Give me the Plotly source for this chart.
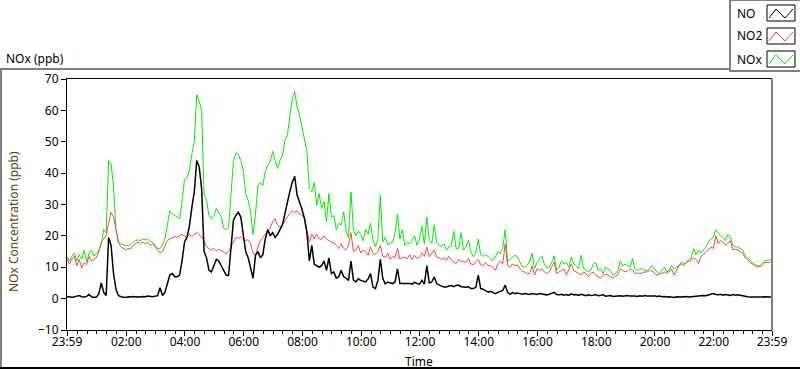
import plotly.graph_objects as go

# ---------------- data (5-minute samples from 23:59 to 23:59) ----------------
minutes_since_start = list(range(0, 1441, 5))

no_ppb = [
    0.5, 0.7, 0.4, 0.6, 0.8, 1.0, 0.6, 0.5, 0.7, 1.3, 0.6, 0.4,
    0.5, 1.5, 5.0, 2.0, 1.0, 19.5, 17.0, 8.0, 3.0, 1.0, 0.6, 0.5,
    0.4, 0.6, 0.5, 0.7, 0.5, 0.6, 0.5, 0.7, 0.6, 0.8, 0.7, 0.6,
    0.8, 0.9, 3.5, 1.0, 2.0, 5.0, 7.5, 8.0, 7.0, 7.0, 7.5, 12.0,
    18.0, 19.5, 23.0, 29.0, 34.0, 44.0, 42.0, 35.0, 15.0, 13.0, 9.0, 8.5,
    10.5, 12.5, 12.0, 10.5, 9.0, 7.5, 7.4, 16.0, 25.0, 26.5, 27.5, 26.0,
    21.0, 15.0, 13.0, 10.0, 6.5, 13.8, 15.0, 13.0, 14.0, 19.0, 22.0, 20.0,
    21.0, 19.5, 20.5, 22.0, 23.5, 27.0, 31.0, 34.0, 37.0, 39.0, 33.0, 31.0,
    28.5, 25.5, 21.0, 12.0, 17.0, 11.0, 10.5, 10.0, 10.5, 12.0, 9.0, 13.0,
    8.0, 8.5, 6.5, 7.0, 9.0, 7.0, 6.5, 5.8, 12.0, 6.0, 5.3, 6.3,
    5.8, 5.5, 5.3, 6.3, 8.0, 3.7, 3.2, 5.8, 12.5, 6.5, 4.7, 5.3,
    5.0, 4.8, 5.3, 9.5, 4.8, 4.8, 5.0, 4.8, 4.8, 4.6, 5.2, 4.8,
    4.6, 5.8, 4.6, 10.5, 5.0, 5.3, 6.9, 4.8, 4.3, 4.0, 3.7, 3.7,
    4.0, 4.2, 3.8, 4.2, 4.3, 3.8, 3.7, 3.6, 3.8, 3.2, 3.2, 3.6,
    7.5, 3.2, 3.0, 2.6, 2.1, 2.3, 2.0, 1.6, 2.0, 2.3, 2.6, 4.3,
    2.0, 1.4, 2.0, 1.6, 1.8, 1.6, 1.4, 1.6, 1.4, 1.3, 1.6, 1.4,
    1.3, 1.6, 1.4, 1.3, 1.2, 1.4, 1.6, 2.0, 1.3, 1.2, 1.4, 1.1,
    1.3, 1.0, 1.5, 1.2, 1.3, 1.0, 1.4, 1.1, 0.9, 1.2, 1.0, 1.1,
    1.3, 0.9, 1.0, 1.2, 0.8, 0.9, 1.0, 0.7, 0.8, 1.0, 0.9, 0.8,
    0.9, 1.0, 0.8, 0.9, 0.8, 0.7, 0.9, 0.8, 1.0, 0.8, 0.7, 0.8,
    0.9, 0.7, 0.8, 0.6, 0.7, 0.5, 0.6, 0.5, 0.4, 0.6, 0.5, 0.5,
    0.6, 0.7, 0.5, 0.6, 0.7, 0.8, 0.7, 0.9, 1.0, 0.9, 1.1, 1.2,
    1.6, 1.3, 1.2, 1.4, 1.1, 1.3, 1.2, 1.0, 1.3, 1.1, 1.2, 1.0,
    0.8, 0.7, 0.6, 0.5, 0.6, 0.5, 0.5, 0.4, 0.5, 0.6, 0.5, 0.5,
    0.6,
]

no2_ppb = [
    12.8, 11.0, 12.5, 13.5, 10.5, 12.5, 9.8, 11.5, 10.8, 13.5, 12.0, 12.5,
    13.0, 15.0, 18.0, 19.0, 20.0, 24.0, 27.5, 26.0, 22.0, 18.0, 16.5, 16.0,
    15.5, 16.0, 15.8, 17.0, 17.5, 18.0, 17.5, 18.0, 17.5, 18.0, 17.0, 17.5,
    16.5, 15.5, 14.5, 15.0, 17.0, 18.5, 19.0, 19.5, 19.8, 19.5, 20.0, 20.5,
    20.0, 19.5, 20.5, 19.8, 20.5, 21.0, 20.5, 19.5, 18.5, 16.5, 16.0, 15.5,
    16.0, 15.2, 15.8, 15.4, 14.8, 14.2, 15.0, 16.5, 18.0, 19.5, 19.2, 19.8,
    18.8, 18.5, 18.8, 17.5, 14.5, 13.8, 16.5, 18.5, 19.5, 20.5, 21.5, 22.5,
    24.5, 25.5, 23.5, 22.8, 23.5, 25.0, 26.0, 27.0, 28.0, 27.5, 28.0, 27.0,
    26.5, 26.0, 22.0, 18.0, 20.5, 19.0, 20.5, 19.2, 18.8, 20.0, 19.0, 18.5,
    18.0, 17.8, 16.8, 16.0, 17.5, 16.0, 15.5, 17.0, 21.0, 15.0, 15.5, 17.0,
    14.5, 15.5, 15.0, 13.8, 16.5, 14.5, 14.0, 15.0, 17.0, 13.5, 13.2, 14.5,
    12.5, 13.5, 13.0, 16.0, 12.5, 13.2, 13.0, 12.8, 14.0, 12.5, 13.8, 12.8,
    13.2, 14.5, 13.5, 16.5, 13.3, 14.5, 15.5, 13.2, 13.0, 12.5, 13.0, 12.2,
    13.5, 12.2, 11.8, 11.2, 12.5, 11.8, 12.0, 11.5, 12.8, 11.0, 10.8, 11.5,
    12.5, 10.8, 10.5, 11.5, 10.6, 10.5, 10.0, 9.0, 11.0, 12.0, 11.0, 17.5,
    10.5, 10.0, 11.0, 10.5, 10.8, 9.5, 8.8, 8.5, 8.0, 8.0, 10.5, 7.5,
    9.5, 9.0, 9.5, 8.5, 8.0, 8.5, 10.0, 11.7, 8.0, 8.5, 9.0, 9.5,
    7.5, 9.5, 11.0, 9.0, 8.5, 7.8, 7.5, 8.5, 8.0, 7.0, 8.0, 8.5,
    7.5, 7.0, 6.5, 7.5, 7.8, 7.5, 7.0, 6.5, 7.2, 7.5, 9.5, 9.0,
    8.5, 8.8, 9.5, 9.2, 8.0, 8.2, 8.0, 8.2, 8.5, 8.5, 9.0, 8.8,
    8.0, 7.5, 7.8, 8.0, 8.5, 8.0, 8.5, 9.5, 7.5, 9.0, 10.5, 11.0,
    10.5, 11.5, 11.8, 12.2, 13.0, 12.5, 11.2, 13.5, 14.0, 15.0, 15.5, 16.5,
    16.0, 20.0, 17.5, 18.5, 18.0, 17.0, 17.5, 18.5, 15.5, 15.8, 15.5, 15.0,
    14.5, 13.0, 12.5, 11.5, 11.0, 10.5, 10.0, 10.2, 10.5, 11.5, 11.5, 11.5,
    12.0,
]

nox_ppb = [
    13.3, 12.0, 13.5, 14.5, 12.0, 14.0, 12.5, 15.4, 11.7, 14.5, 15.5, 13.5,
    14.5, 15.5, 17.5, 22.0, 21.0, 44.0, 43.0, 36.0, 22.0, 18.0, 17.5, 17.2,
    16.8, 17.0, 17.2, 18.0, 18.5, 18.7, 18.5, 19.0, 18.7, 19.0, 18.2, 18.0,
    17.0, 16.0, 16.0, 17.0, 19.0, 23.0, 28.0, 27.0, 26.5, 26.0, 25.5, 31.0,
    38.0, 38.5, 41.0, 46.0, 50.0, 65.0, 63.0, 60.0, 33.0, 31.5, 26.5, 25.5,
    26.5, 28.7, 27.5, 26.0, 22.5, 22.0, 22.5, 33.0, 44.0, 46.5, 46.0, 44.0,
    41.0, 33.5, 31.4, 27.5, 20.5, 27.0, 36.0, 37.0, 36.0, 40.5, 42.5, 43.5,
    47.0, 44.0, 41.5, 44.0, 45.5, 50.5, 52.0, 58.0, 63.5, 66.0, 61.0, 58.5,
    55.0, 50.5, 47.0, 35.0, 34.0, 37.0, 29.8, 33.5, 28.7, 31.0, 24.5, 33.5,
    26.0, 26.5, 22.0, 24.0, 23.5, 27.7, 21.5, 19.5, 34.0, 22.0, 20.0, 21.5,
    20.5, 18.5, 22.0, 20.5, 24.0, 18.5, 16.5, 19.0, 33.0, 18.0, 19.5, 17.2,
    17.5, 18.0, 21.0, 27.0, 19.0, 22.0, 17.0, 18.0, 17.5, 18.5, 20.0, 17.0,
    19.0, 23.0, 17.5, 26.0, 18.5, 17.6, 23.5, 18.0, 17.0, 16.5, 17.5, 15.4,
    16.5, 16.8, 21.5, 15.8, 16.0, 21.0, 15.5, 16.5, 18.5, 15.0, 13.3, 14.5,
    19.0, 14.0, 13.5, 14.0, 13.5, 12.5, 12.2, 13.3, 15.0, 14.5, 16.0, 22.0,
    12.0, 12.5, 13.3, 13.8, 13.3, 11.5, 10.1, 10.0, 10.5, 12.0, 14.5, 9.5,
    11.5, 12.5, 13.5, 11.0, 9.8, 10.0, 11.5, 13.6, 9.0, 10.0, 12.0, 11.0,
    11.5, 10.0, 13.3, 11.0, 10.5, 9.5, 13.8, 9.5, 9.0, 8.5, 9.0, 11.0,
    11.5, 9.0, 9.5, 8.0, 10.0, 9.5, 9.0, 7.5, 8.0, 9.0, 12.0, 10.5,
    11.0, 10.5, 10.0, 12.8, 9.5, 9.0, 9.5, 9.5, 9.0, 9.0, 9.8, 10.5,
    9.5, 8.5, 8.0, 9.0, 10.0, 8.5, 9.0, 10.6, 9.5, 10.0, 10.5, 11.7,
    11.0, 11.5, 12.5, 12.8, 16.0, 14.0, 15.5, 14.5, 15.5, 16.5, 18.0, 19.0,
    19.5, 22.0, 21.0, 20.0, 19.5, 18.5, 20.5, 19.5, 17.0, 16.5, 16.5, 16.0,
    15.5, 13.8, 13.0, 12.0, 11.5, 11.0, 10.5, 10.6, 11.2, 12.0, 12.2, 12.2,
    12.8,
]

x_tick_minutes = [0, 121, 241, 361, 481, 601, 721, 841, 961, 1081, 1201, 1321, 1440]
x_tick_labels = ["23:59", "02:00", "04:00", "06:00", "08:00", "10:00", "12:00",
                 "14:00", "16:00", "18:00", "20:00", "22:00", "23:59"]
minor_tick_minutes = list(range(1, 1440, 20))
y_ticks = [-10, 0, 10, 20, 30, 40, 50, 60, 70]

series_names = ["NO", "NO2", "NOx"]
series_colors = ["#000000", "#FF4545", "#00EE00"]

# ---------------- layout helpers (pixel -> paper) ----------------
W, H = 800, 369
PL, PR, PT, PB = 67, 772, 79, 330


def px(x):
    return (x - PL) / (PR - PL)


def py(y):
    return (PB - y) / (PB - PT)


FONT = "Noto Sans, Segoe UI, Arial, sans-serif"

fig = go.Figure()
# draw order: NOx under NO2 under NO
fig.add_trace(go.Scatter(x=minutes_since_start, y=nox_ppb, mode="lines", name="NOx",
                         line=dict(color=series_colors[2], width=1), showlegend=False))
fig.add_trace(go.Scatter(x=minutes_since_start, y=no2_ppb, mode="lines", name="NO2",
                         line=dict(color=series_colors[1], width=1), showlegend=False))
fig.add_trace(go.Scatter(x=minutes_since_start, y=no_ppb, mode="lines", name="NO",
                         line=dict(color=series_colors[0], width=1.5), showlegend=False))

shapes = []
annotations = []

# panel frame lines (LabVIEW style)
shapes.append(dict(type="line", xref="paper", yref="paper", x0=px(0), x1=px(730), y0=py(69), y1=py(69),
                   line=dict(color="#808080", width=2)))
shapes.append(dict(type="line", xref="paper", yref="paper", x0=px(1), x1=px(1), y0=py(69), y1=py(368),
                   line=dict(color="#808080", width=2)))
shapes.append(dict(type="line", xref="paper", yref="paper", x0=px(0), x1=px(800), y0=py(368), y1=py(368),
                   line=dict(color="#000000", width=2)))
# right border of plot (gray)
shapes.append(dict(type="line", xref="paper", yref="paper", x0=1, x1=1, y0=0, y1=1,
                   line=dict(color="#808080", width=2)))

# legend panel
shapes.append(dict(type="rect", xref="paper", yref="paper", x0=px(730), x1=px(801), y0=py(0), y1=py(71),
                   line=dict(color="#808080", width=2), fillcolor="white"))
row_centers = [13, 36, 59]
for name, color, cy in zip(series_names, series_colors, row_centers):
    shapes.append(dict(type="rect", xref="paper", yref="paper", x0=px(767), x1=px(795),
                       y0=py(cy - 8), y1=py(cy + 8), line=dict(color="#000000", width=1)))
    pts = [(769, cy + 5), (776, cy - 4), (785, cy + 5), (793, cy - 4)]
    path = "M " + " L ".join(f"{px(a):.5f},{py(b):.5f}" for a, b in pts)
    shapes.append(dict(type="path", xref="paper", yref="paper", path=path,
                       line=dict(color=color, width=1)))
    annotations.append(dict(xref="paper", yref="paper", x=px(735), y=py(cy), text=name,
                            showarrow=False, xanchor="left", yanchor="middle",
                            font=dict(family=FONT, size=12, color="#000000")))

# titles
annotations.append(dict(xref="paper", yref="paper", x=px(4), y=py(58), text="NOx (ppb)",
                        showarrow=False, xanchor="left", yanchor="middle",
                        font=dict(family=FONT, size=12, color="#000000")))
annotations.append(dict(xref="paper", yref="paper", x=px(419), y=py(361), text="Time",
                        showarrow=False, xanchor="center", yanchor="middle",
                        font=dict(family=FONT, size=12, color="#000000")))
annotations.append(dict(xref="paper", yref="paper", x=px(14), y=py(222), text="NOx Concentration (ppb)",
                        showarrow=False, xanchor="center", yanchor="middle", textangle=-90,
                        font=dict(family=FONT, size=12, color="#5a4a10")))

fig.update_layout(
    width=W, height=H,
    margin=dict(l=PL, r=W - PR, t=PT, b=H - PB, pad=0),
    paper_bgcolor="white", plot_bgcolor="white",
    showlegend=False,
    shapes=shapes, annotations=annotations,
    font=dict(family=FONT, size=12, color="#000000"),
)
fig.update_xaxes(
    range=[0, 1440], showgrid=False, zeroline=False,
    showline=True, linecolor="#000000", linewidth=1, mirror=True,
    tickmode="array", tickvals=x_tick_minutes, ticktext=x_tick_labels,
    ticks="outside", ticklen=5, tickcolor="#000000", tickwidth=1,
    ticklabelstandoff=-4,
    tickfont=dict(family=FONT, size=12, color="#000000"),
    minor=dict(tickmode="array", tickvals=minor_tick_minutes, ticks="outside",
               ticklen=3, tickcolor="#000000", tickwidth=1),
)
fig.update_yaxes(
    range=[-10, 70], showgrid=False, zeroline=False,
    showline=True, linecolor="#000000", linewidth=1,
    tickmode="array", tickvals=y_ticks,
    ticks="outside", ticklen=5, tickcolor="#000000", tickwidth=1,
    tickfont=dict(family=FONT, size=12, color="#000000"),
)

fig.write_html(
    "out.html",
    config={"displayModeBar": False},
    post_script="document.body.style.margin='0';document.body.style.overflow='hidden';",
)
